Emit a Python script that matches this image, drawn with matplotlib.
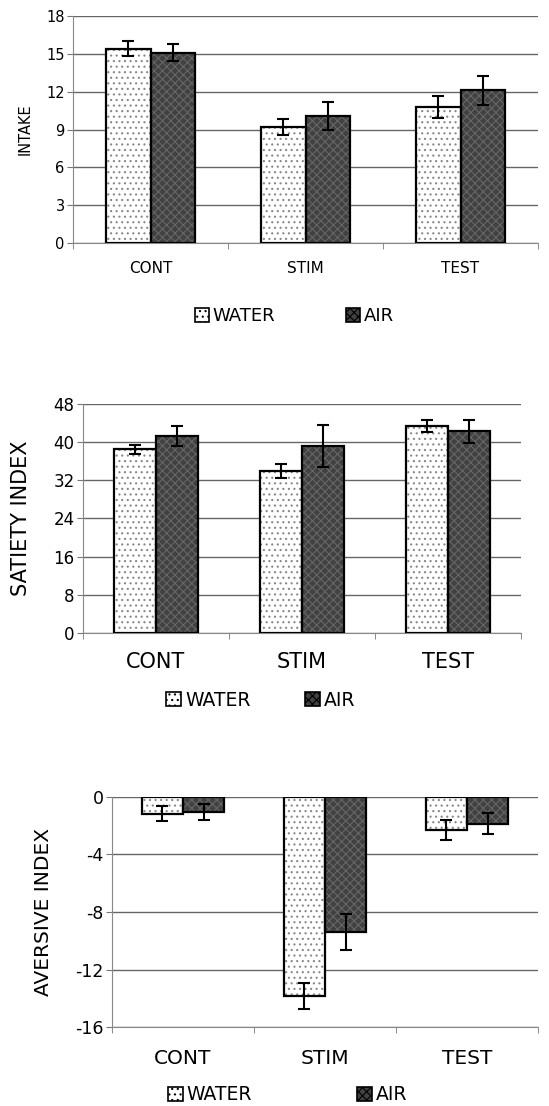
import matplotlib
matplotlib.use('Agg')
import matplotlib.pyplot as plt
from matplotlib.patches import Patch
import numpy as np

plt.rcParams.update({
    'font.family': 'DejaVu Sans',
    'hatch.linewidth': 0.8,
    'axes.unicode_minus': False,
})

categories = ['CONT', 'STIM', 'TEST']

intake_water = [15.4, 9.2, 10.8]
intake_water_err = [0.6, 0.6, 0.85]
intake_air = [15.1, 10.1, 12.1]
intake_air_err = [0.65, 1.1, 1.15]

satiety_water = [38.5, 34.0, 43.4]
satiety_water_err = [1.0, 1.5, 1.35]
satiety_air = [41.3, 39.1, 42.3]
satiety_air_err = [2.0, 4.4, 2.45]

aversive_water = [-1.15, -13.85, -2.3]
aversive_water_err = [0.53, 0.93, 0.7]
aversive_air = [-1.05, -9.4, -1.85]
aversive_air_err = [0.55, 1.23, 0.73]

panels = [
    dict(water=intake_water, werr=intake_water_err, air=intake_air, aerr=intake_air_err,
         ylabel='INTAKE', ylim=(0, 18), yticks=[0, 3, 6, 9, 12, 15, 18],
         rect=[0.133, 0.7803, 0.847, 0.2052], tick_fs=10.5, xlab_fs=11, ylab_fs=10.5,
         ylab_pad=10, leg_xy=(0.536, 0.714), leg_fs=13, colsp=3.9, xlab_pad=13),
    dict(water=satiety_water, werr=satiety_water_err, air=satiety_air, aerr=satiety_air_err,
         ylabel='SATIETY INDEX', ylim=(0, 48), yticks=[0, 8, 16, 24, 32, 40, 48],
         rect=[0.151, 0.4277, 0.798, 0.2070], tick_fs=12, xlab_fs=15, ylab_fs=15,
         ylab_pad=16, leg_xy=(0.475, 0.367), leg_fs=13.5, colsp=2.9, xlab_pad=14),
    dict(water=aversive_water, werr=aversive_water_err, air=aversive_air, aerr=aversive_air_err,
         ylabel='AVERSIVE INDEX', ylim=(-16, 0), yticks=[-16, -12, -8, -4, 0],
         rect=[0.204, 0.0714, 0.776, 0.2080], tick_fs=12.5, xlab_fs=14.5, ylab_fs=14.5,
         ylab_pad=16, leg_xy=(0.524, 0.010), leg_fs=13.5, colsp=5.6, xlab_pad=16),
]

fig = plt.figure(figsize=(5.49, 11.06), dpi=100)

x = np.arange(len(categories))
w = 0.29

for p in panels:
    ax = fig.add_axes(p['rect'])
    # textured fills first, black outlines drawn over them
    ax.bar(x - w / 2, p['water'], w, color='white', hatch='...', edgecolor='#888888',
           linewidth=0, zorder=2)
    ax.bar(x + w / 2, p['air'], w, color='#414141', hatch='xxxx', edgecolor='#666666',
           linewidth=0, zorder=2)
    ax.bar(x - w / 2, p['water'], w, fill=False, edgecolor='black', linewidth=1.6, zorder=3)
    ax.bar(x + w / 2, p['air'], w, fill=False, edgecolor='black', linewidth=1.6, zorder=3)
    ax.errorbar(x - w / 2, p['water'], yerr=p['werr'], fmt='none', ecolor='black',
                elinewidth=1.5, capsize=4, capthick=1.5, zorder=4)
    ax.errorbar(x + w / 2, p['air'], yerr=p['aerr'], fmt='none', ecolor='black',
                elinewidth=1.5, capsize=4, capthick=1.5, zorder=4)

    ax.set_xlim(-0.5, len(categories) - 0.5)
    ax.set_ylim(*p['ylim'])
    ax.set_yticks(p['yticks'])
    ax.tick_params(axis='y', labelsize=p['tick_fs'], length=4, color='#777777', pad=2)
    ax.set_xticks(x)
    ax.set_xticklabels(categories, fontsize=p['xlab_fs'])
    ax.tick_params(axis='x', length=0, pad=p['xlab_pad'])
    ax.set_xticks(np.arange(len(categories) + 1) - 0.5, minor=True)
    ax.tick_params(axis='x', which='minor', length=4, color='#777777', direction='out')
    ax.set_ylabel(p['ylabel'], fontsize=p['ylab_fs'], labelpad=p['ylab_pad'])

    ax.yaxis.grid(True, color='#666666', linewidth=1.0, zorder=0)
    ax.set_axisbelow(True)
    for s in ['top', 'right']:
        ax.spines[s].set_visible(False)
    ax.spines['left'].set_color('#888888')
    ax.spines['bottom'].set_color('#888888')

    handles = [Patch(facecolor='white', edgecolor='black', hatch='...', linewidth=1.2),
               Patch(facecolor='#414141', edgecolor='black', hatch='xxxx', linewidth=1.2)]
    fig.legend(handles, ['WATER', 'AIR'], loc='center', bbox_to_anchor=p['leg_xy'],
               ncol=2, frameon=False, fontsize=p['leg_fs'], handlelength=0.8,
               handleheight=0.8, handletextpad=0.2, columnspacing=p['colsp'])

fig.savefig('out.png', dpi=100)
